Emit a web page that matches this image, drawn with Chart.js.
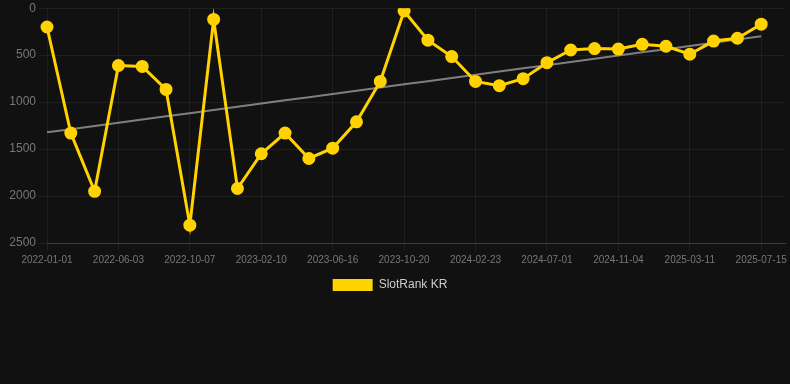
<!DOCTYPE html>
<html>
<head>
<meta charset="utf-8">
<script src="https://cdn.jsdelivr.net/npm/chart.js@4.4.1/dist/chart.umd.min.js"></script>
<style>
  html, body { margin: 0; padding: 0; background: #111111; overflow: hidden; }
  #wrap { position: relative; width: 794px; height: 303px; margin-top: -2px; }
</style>
</head>
<body>
<div id="wrap"><canvas id="rankChart"></canvas></div>
<script>
// Dates on the x axis (one label past the last point, left blank by the axis)
const dateLabels = [
  '2022-01-01', '2022-02-21', '2022-04-13',
  '2022-06-03', '2022-07-15', '2022-08-26',
  '2022-10-07', '2022-11-18', '2022-12-30',
  '2023-02-10', '2023-03-24', '2023-05-05',
  '2023-06-16', '2023-07-28', '2023-09-08',
  '2023-10-20', '2023-12-01', '2024-01-12',
  '2024-02-23', '2024-04-06', '2024-05-19',
  '2024-07-01', '2024-08-12', '2024-09-23',
  '2024-11-04', '2024-12-16', '2025-01-27',
  '2025-03-11', '2025-04-22', '2025-06-03',
  '2025-07-15', '2025-08-26'
];

// Rank values (lower is better, axis is reversed)
const rankValues = [
  200, 1330, 1950, 610, 620, 865, 2310, 120, 1920, 1550,
  1330, 1600, 1490, 1210, 780, 30, 340, 515, 780, 825,
  750, 580, 445, 430, 435, 385, 405, 490, 350, 320, 170
];

const yTicks = [0, 500, 1000, 1500, 2000, 2500];
const seriesName = 'SlotRank KR';

// least squares trend over the rank values
function trendOf(values) {
  const n = values.length;
  let sx = 0, sy = 0, sxy = 0, sxx = 0;
  values.forEach((v, i) => { sx += i; sy += v; sxy += i * v; sxx += i * i; });
  const slope = (n * sxy - sx * sy) / (n * sxx - sx * sx);
  const icpt = (sy - slope * sx) / n;
  return values.map((v, i) => icpt + slope * i);
}
const trendValues = trendOf(rankValues);

const fontFamily = 'Liberation Sans, Arial, sans-serif';

const ctx = document.getElementById('rankChart').getContext('2d');
new Chart(ctx, {
  type: 'line',
  data: {
    labels: dateLabels,
    datasets: [{
      label: seriesName,
      data: rankValues,
      borderColor: '#ffd200',
      backgroundColor: '#ffd200',
      borderWidth: 3,
      pointRadius: 5,
      pointHoverRadius: 6,
      pointBackgroundColor: '#ffd200',
      pointBorderColor: '#ffd200',
      tension: 0
    }, {
      label: 'trend',
      data: trendValues,
      borderColor: 'rgba(140,140,140,0.9)',
      borderWidth: 2,
      pointRadius: 0,
      fill: false
    }]
  },
  options: {
    responsive: true,
    maintainAspectRatio: false,
    animation: false,
    // left pulled in so the legend centres like the original
    layout: { padding: { left: -10, right: 4 } },
    scales: {
      y: {
        reverse: true,
        min: 0,
        max: 2500,
        afterBuildTicks: axis => { axis.ticks = yTicks.map(v => ({ value: v })); },
        afterFit: axis => { axis.width = 57; },
        ticks: {
          color: '#777',
          font: { size: 12, family: fontFamily },
          callback: v => String(v)
        },
        grid: { color: 'rgba(255,255,255,0.06)' },
        border: { display: false }
      },
      x: {
        ticks: {
          autoSkip: false,
          maxRotation: 0,
          color: '#777',
          font: { size: 10, family: fontFamily },
          callback: function (val, idx) {
            if (idx % 3 !== 0) return null;
            return this.getLabelForValue(val);
          }
        },
        grid: { color: 'rgba(255,255,255,0.06)' },
        border: { color: 'rgba(255,255,255,0.15)' }
      }
    },
    plugins: {
      legend: {
        position: 'bottom',
        labels: {
          color: '#cccccc',
          boxWidth: 40,
          boxHeight: 12,
          font: { size: 12, family: fontFamily },
          filter: item => item.text !== 'trend',
          generateLabels: chart => {
            const items = Chart.defaults.plugins.legend.labels.generateLabels(chart);
            items.forEach(it => { it.lineWidth = 0; });
            return items;
          }
        }
      },
      tooltip: { enabled: false }
    }
  }
});
</script>
</body>
</html>
